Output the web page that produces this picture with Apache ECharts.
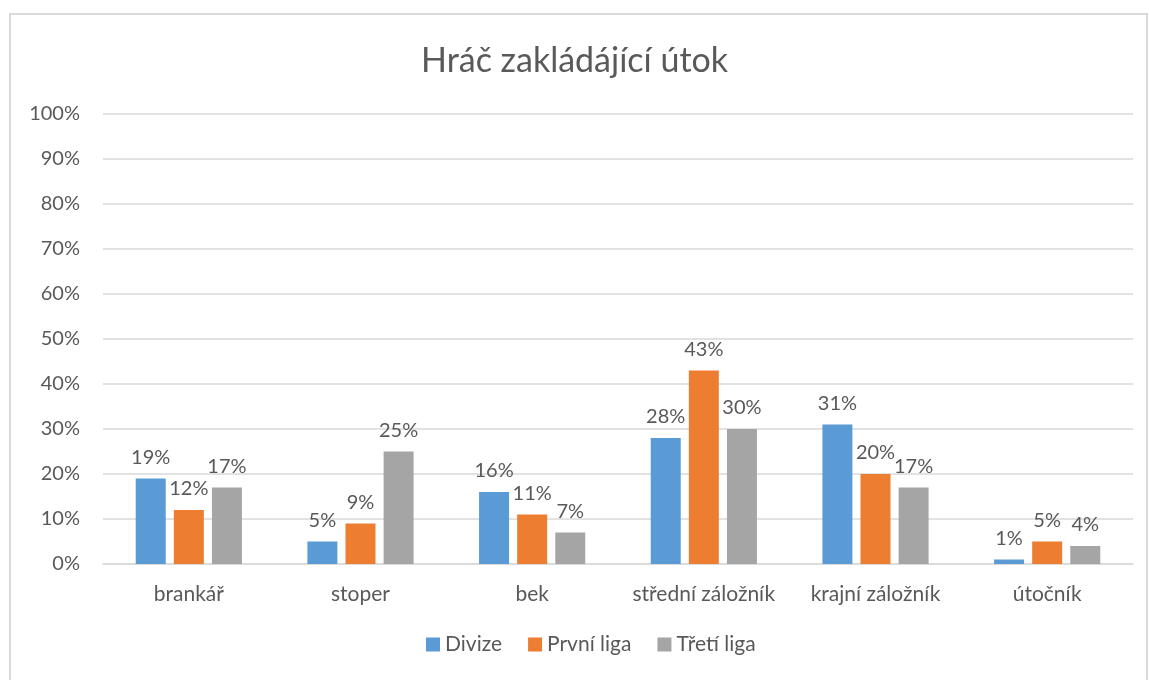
<!DOCTYPE html>
<html>
<head>
<meta charset="utf-8">
<script src="https://cdn.jsdelivr.net/npm/echarts@6/dist/echarts.min.js"></script>
<style>
  html, body { margin: 0; padding: 0; background: #ffffff; }
  #chart { width: 1149px; height: 680px; }
</style>
</head>
<body>
<div id="chart"></div>
<script>
// Positions on the pitch that start an attack, share per league level
const categories = ['brankář', 'stoper', 'bek', 'střední záložník', 'krajní záložník', 'útočník'];
const seriesNames = ['Divize', 'První liga', 'Třetí liga'];
const divize = [19, 5, 16, 28, 31, 1];
const prvniLiga = [12, 9, 11, 43, 20, 5];
const tretiLiga = [17, 25, 7, 30, 17, 4];
const yTicks = [0, 10, 20, 30, 40, 50, 60, 70, 80, 90, 100];

const colors = ['#5B9BD5', '#ED7D31', '#A5A5A5'];
const fontFamily = 'Lato, "Noto Sans", sans-serif';
const textColor = '#595959';

const chart = echarts.init(document.getElementById('chart'), null, { renderer: 'canvas' });

function barSeries(name, data, color) {
  return {
    name: name,
    type: 'bar',
    data: data,
    barWidth: 30,
    barGap: '27%',
    itemStyle: { color: color },
    label: {
      show: true,
      position: 'top',
      distance: 11,
      formatter: '{c}%',
      fontFamily: fontFamily,
      fontSize: 20,
      color: textColor
    }
  };
}

chart.setOption({
  animation: false,
  color: colors,
  title: {
    text: 'Hráč zakládájící útok',
    left: 'center',
    top: 39,
    textStyle: { fontFamily: fontFamily, fontSize: 34, fontWeight: 'normal', color: textColor }
  },
  legend: {
    data: seriesNames,
    bottom: 20,
    left: 421,
    icon: 'rect',
    itemWidth: 14,
    itemHeight: 14,
    itemGap: 26,
    textStyle: { fontFamily: fontFamily, fontSize: 21, color: textColor }
  },
  grid: { left: 103, right: 16, top: 114, bottom: 116, containLabel: false },
  xAxis: {
    type: 'category',
    data: categories,
    axisTick: { show: false },
    axisLine: { lineStyle: { color: '#D9D9D9', width: 1.5 } },
    axisLabel: { interval: 0, fontFamily: fontFamily, fontSize: 21, color: textColor, margin: 20 }
  },
  yAxis: {
    type: 'value',
    min: yTicks[0],
    max: yTicks[yTicks.length - 1],
    interval: 10,
    axisLine: { show: false },
    axisTick: { show: false },
    splitLine: { lineStyle: { color: '#D9D9D9', width: 1.5 } },
    axisLabel: { fontFamily: fontFamily, fontSize: 20, color: textColor, margin: 23, formatter: '{value}%' }
  },
  graphic: [{
    type: 'rect',
    shape: { x: 10, y: 14, width: 1137, height: 720 },
    style: { fill: 'none', stroke: '#D9D9D9', lineWidth: 2 },
    silent: true,
    z: -1
  }],
  series: [
    barSeries(seriesNames[0], divize, colors[0]),
    barSeries(seriesNames[1], prvniLiga, colors[1]),
    barSeries(seriesNames[2], tretiLiga, colors[2])
  ]
});
</script>
</body>
</html>
